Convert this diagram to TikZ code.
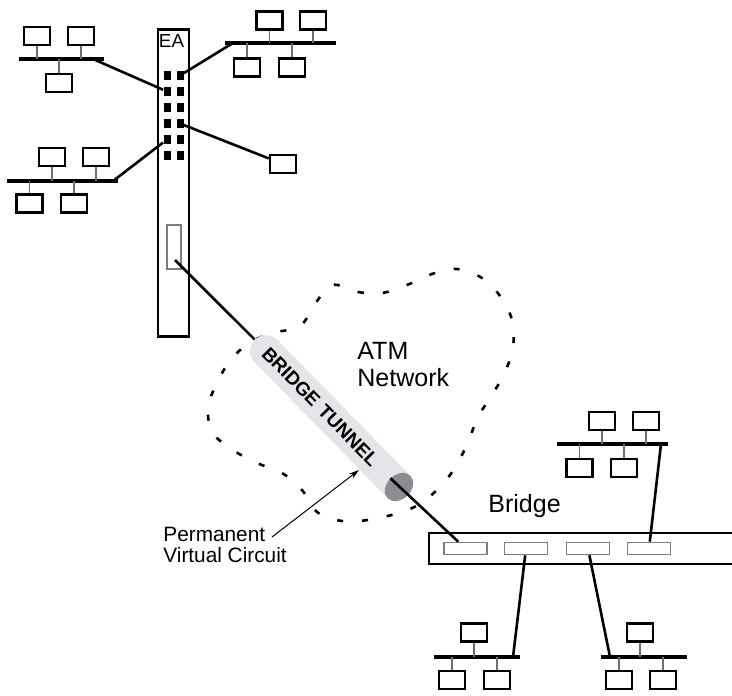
\documentclass[tikz,border=0pt]{standalone}
\usepackage{fontspec}
\setmainfont{Liberation Sans}
\usetikzlibrary{
  arrows.meta,
  shapes.geometric
}
\definecolor{tunnelfill}{RGB}{228,229,232}
\definecolor{tunnelcap}{RGB}{140,141,146}
\definecolor{stemgray}{RGB}{110,110,110}
\definecolor{portgray}{RGB}{125,125,125}
\tikzset{
  pc/.style={
    rectangle,
    draw=black,
    line width=1.2pt,
    fill=white,
    minimum width=13pt,
    minimum height=9pt,
    inner sep=0pt
  },
  bus/.style={
    line width=1.6pt
  },
  stem/.style={
    line width=0.7pt,
    draw=stemgray
  },
  link/.style={
    line width=1.3pt
  },
  chassis/.style={
    rectangle,
    draw=black,
    line width=1.4pt,
    minimum width=15.5pt,
    minimum height=153.5pt,
    inner sep=0pt
  },
  slot/.style={
    rectangle,
    draw=portgray,
    line width=0.6pt,
    minimum width=7pt,
    minimum height=22pt,
    inner sep=0pt
  },
  eaport/.style={
    rectangle,
    fill=black,
    minimum width=3.5pt,
    minimum height=4.5pt,
    inner sep=0pt
  },
  bridgebox/.style={
    rectangle,
    draw=black,
    line width=1.4pt,
    minimum width=160.5pt,
    minimum height=15.5pt,
    inner sep=0pt
  },
  brport/.style={
    rectangle,
    draw=portgray,
    line width=0.8pt,
    fill=white,
    minimum width=21.5pt,
    minimum height=6pt,
    inner sep=0pt
  },
  tube/.style={
    rectangle,
    rounded corners=8pt,
    fill=tunnelfill,
    minimum width=109pt,
    minimum height=16pt,
    inner xsep=7.5pt,
    inner ysep=0pt,
    text width=94pt,
    align=left,
    font=\bfseries\fontsize{9.5}{10}\selectfont
  },
  tubeEnd/.style={
    ellipse,
    fill=tunnelcap,
    minimum width=12pt,
    minimum height=16pt,
    inner sep=0pt
  },
  cloudline/.style={
    line width=1.3pt,
    dash pattern=on 3pt off 9.5pt
  },
  bigText/.style={
    inner sep=0pt,
    align=left,
    font=\fontsize{12.5}{13.5}\selectfont
  },
  smallText/.style={
    inner sep=0pt,
    align=left,
    font=\fontsize{10.4}{10.5}\selectfont
  },
  pvcArrow/.style={
    -{Stealth[length=5pt,width=3pt]},
    line width=0.5pt
  }
}

\begin{document}
\begin{tikzpicture}[x=0.5pt, y=-0.5pt]
  \useasboundingbox (0,0) rectangle (732,695);

  % ATM network cloud
  \draw[cloudline] plot[smooth cycle, tension=0.6] coordinates {
    (332,285) (358,292) (382,293) (407,285) (432,274) (457,269) (482,278)
    (500,296) (512,320) (513,347) (505,372) (492,395) (478,417) (468,442)
    (456,466) (440,487) (418,505) (395,514) (368,520) (342,521) (317,512)
    (302,490) (282,473) (257,463) (233,450) (213,433) (208,408) (217,383)
    (230,361) (249,343) (273,333) (300,326) (315,304)};

  \node[bigText, anchor=north west] (atm) at (357,342) {ATM\\Network};

  % EA chassis
  \node[chassis] (ea) at (173.5,183) {};
  \node[inner sep=0pt, anchor=base, font=\fontsize{9.4}{10}\selectfont]
    (ealabel) at (171.5,48) {EA};
  \node[slot] (slot) at (174,247) {};
  \coordinate (slotpin) at (175,260);
  \foreach \y [count=\i] in {75.5,91.5,107.5,123.5,139.5,155.5} {
    \node[eaport] (pa\i) at (167,\y) {};
    \node[eaport] (pb\i) at (180,\y) {};
  }

  % LAN, top left
  \node[pc] (tl1) at (37,36) {};
  \node[pc] (tl2) at (81,36) {};
  \node[pc] (tl3) at (59,83) {};
  \coordinate (tlA) at (19,59);
  \coordinate (tlB) at (104,59);
  \coordinate (tlL) at (93,59);
  \draw[bus] (tlA) -- (tlB);
  \draw[stem] (tl1) -- (tl1 |- tlA);
  \draw[stem] (tl2) -- (tl2 |- tlA);
  \draw[stem] (tl3) -- (tl3 |- tlA);
  \draw[link] (tlL) -- (pa2);

  % LAN, top right
  \node[pc] (tr1) at (269.5,20.5) {};
  \node[pc] (tr2) at (313,20.5) {};
  \node[pc] (tr3) at (247,67.5) {};
  \node[pc] (tr4) at (292,67.5) {};
  \coordinate (trA) at (225,43);
  \coordinate (trB) at (336,43);
  \coordinate (trL) at (233,43);
  \draw[bus] (trA) -- (trB);
  \draw[stem] (tr1) -- (tr1 |- trA);
  \draw[stem] (tr2) -- (tr2 |- trA);
  \draw[stem] (tr3) -- (tr3 |- trA);
  \draw[stem] (tr4) -- (tr4 |- trA);
  \draw[link] (trL) -- (pb1);

  % LAN, middle left
  \node[pc] (ml1) at (52,157) {};
  \node[pc] (ml2) at (96,157) {};
  \node[pc] (ml3) at (29.5,203.5) {};
  \node[pc] (ml4) at (74,203.5) {};
  \coordinate (mlA) at (7,181);
  \coordinate (mlB) at (118,181);
  \coordinate (mlL) at (113,181);
  \draw[bus] (mlA) -- (mlB);
  \draw[stem] (ml1) -- (ml1 |- mlA);
  \draw[stem] (ml2) -- (ml2 |- mlA);
  \draw[stem] (ml3) -- (ml3 |- mlA);
  \draw[stem] (ml4) -- (ml4 |- mlA);
  \draw[link] (mlL) -- (pa5);

  % single station
  \node[pc] (term) at (283,164) {};
  \draw[link] (pb4) -- (term);

  % bridge
  \node[bridgebox] (bridge) at (589.5,548.5) {};
  \node[bigText, anchor=base west] (bridgelabel) at (488,512) {Bridge};
  \foreach \x [count=\i] in {465.5,526,588,649}
    \node[brport] (bp\i) at (\x,548.5) {};

  % LAN, upper right
  \node[pc] (ur1) at (602,421) {};
  \node[pc] (ur2) at (646,421) {};
  \node[pc] (ur3) at (579.5,468) {};
  \node[pc] (ur4) at (624,468) {};
  \coordinate (urA) at (557,444);
  \coordinate (urB) at (668,444);
  \coordinate (urL) at (661,444);
  \draw[bus] (urA) -- (urB);
  \draw[stem] (ur1) -- (ur1 |- urA);
  \draw[stem] (ur2) -- (ur2 |- urA);
  \draw[stem] (ur3) -- (ur3 |- urA);
  \draw[stem] (ur4) -- (ur4 |- urA);
  \draw[link] (bp4) -- (urL);

  % LAN, lower left
  \node[pc] (ll1) at (474,632.5) {};
  \node[pc] (ll2) at (452,680) {};
  \node[pc] (ll3) at (497,680) {};
  \coordinate (llA) at (434,657);
  \coordinate (llB) at (520,657);
  \coordinate (llL) at (513,657);
  \draw[bus] (llA) -- (llB);
  \draw[stem] (ll1) -- (ll1 |- llA);
  \draw[stem] (ll2) -- (ll2 |- llA);
  \draw[stem] (ll3) -- (ll3 |- llA);
  \draw[link] (bp2) -- (llL);

  % LAN, lower right
  \node[pc] (lr1) at (640,632.5) {};
  \node[pc] (lr2) at (619,680) {};
  \node[pc] (lr3) at (663,680) {};
  \coordinate (lrA) at (601,657);
  \coordinate (lrB) at (687,657);
  \coordinate (lrL) at (610,657);
  \draw[bus] (lrA) -- (lrB);
  \draw[stem] (lr1) -- (lr1 |- lrA);
  \draw[stem] (lr2) -- (lr2 |- lrA);
  \draw[stem] (lr3) -- (lr3 |- lrA);
  \draw[link] (bp3) -- (lrL);

  % bridge tunnel over the ATM network
  \node[tube, rotate=-45.6] (tunnel) at (331.1,417.6) {BRIDGE TUNNEL};
  \node[tubeEnd, rotate=-45.6] (tend) at (399,487) {};
  \draw[link] (slotpin) -- (tunnel.west);
  \draw[link] (tend.west) -- (bp1);

  % permanent virtual circuit
  \node[smallText, anchor=north west] (pvc) at (163,527)
    {Permanent\\Virtual Circuit};
  \coordinate (pvctail) at (272,537);
  \coordinate (pvchead) at (359,470);
  \draw[pvcArrow] (pvctail) -- (pvchead);
\end{tikzpicture}
\end{document}
